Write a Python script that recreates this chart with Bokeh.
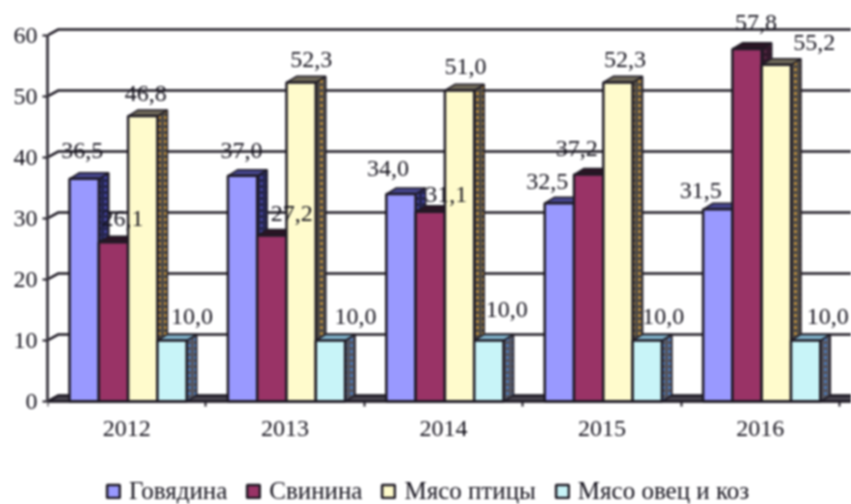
from bokeh.plotting import figure
from bokeh.models import ColumnDataSource, FixedTicker, Legend, LegendItem, LinearAxis, Range1d, InlineStyleSheet
from bokeh.core.properties import value
from bokeh.embed import file_html
from bokeh.resources import INLINE

years = ["2012", "2013", "2014", "2015", "2016"]
series_names = ["Говядина", "Свинина", "Мясо птицы", "Мясо овец и коз"]
beef = [36.5, 37.0, 34.0, 32.5, 31.5]
pork = [26.1, 27.2, 31.1, 37.2, 57.8]
poultry = [46.8, 52.3, 51.0, 52.3, 55.2]
mutton = [10.0, 10.0, 10.0, 10.0, 10.0]
y_ticks = [0, 10, 20, 30, 40, 50, 60]

# styling / layout
front = ["#9999FF", "#993366", "#FFFBCC", "#C8F4F8"]
side = ["#26264E", "#30182A", "#4E4A46", "#55555F"]
dots = ["#4A4AB0", "#5A2845", "#D0983A", "#4A80C8"]
top = ["#45458C", "#2A1424", "#6E6858", "#7FB0C8"]
INK = "#1E1A24"
TXT = "#14121C"
FONT = "Liberation Serif"
PX_X = 158.4           # pixels per category
PX_Y = 6.1             # pixels per unit
BAR_START = 22 / PX_X
BAR_W = 29.3 / PX_X
DEPTH_X = 10 / PX_X
DEPTH_Y = 1.0
WALL_X = 11 / PX_X
X_END = 804 / PX_X

label_dx = [[-2, 9, 3, 20], [-1, 20, 10, 25], [-13, 16, 6, 18], [-12, -12, 7, 16], [-17, 9, 38, 22]]
label_dy = [[28, 24, 23, 24], [25, 22, 23, 24], [26, 17, 24, 31], [22, 26, 23, 24], [19, 26, 22, 24]]

p = figure(width=851, height=504, output_backend="svg", toolbar_location=None,
           x_range=Range1d(0, X_END), y_range=Range1d(-103 / PX_Y, 401 / PX_Y),
           x_axis_type=None, y_axis_type=None,
           min_border_left=47, min_border_right=0, min_border_top=0, min_border_bottom=0)
p.outline_line_color = None
p.xgrid.visible = False
p.ygrid.visible = False
p.background_fill_color = "white"
p.stylesheets = [InlineStyleSheet(css=":host{filter:blur(0.8px);}")]

# walls and floor
p.patch([0, WALL_X, X_END, X_END], [0, DEPTH_Y, DEPTH_Y, 0], fill_color="#4A4650", line_color=INK, line_width=1.5)
p.multi_line([[0, WALL_X, X_END] for _ in y_ticks], [[t, t + DEPTH_Y, t + DEPTH_Y] for t in y_ticks],
             line_color=INK, line_width=2.5)

rows = [beef, pork, poultry, mutton]
fronts = []
for k, vals in enumerate(rows):
    x0 = [i + BAR_START + BAR_W * k for i in range(len(years))]
    x1 = [a + BAR_W for a in x0]
    p.patches([[b, b + DEPTH_X, b + DEPTH_X, b] for b in x1],
              [[0, DEPTH_Y, v + DEPTH_Y, v] for v in vals],
              fill_color=side[k], line_color=INK, line_width=1.5,
              hatch_pattern="dot", hatch_color=dots[k], hatch_scale=6, hatch_weight=1.5)
    p.patches([[a, a + DEPTH_X, b + DEPTH_X, b] for a, b in zip(x0, x1)],
              [[v, v + DEPTH_Y, v + DEPTH_Y, v] for v in vals],
              fill_color=top[k], line_color=INK, line_width=1.5)
    fronts.append(p.quad(left=x0, right=x1, bottom=0, top=vals, fill_color=front[k],
                         line_color=INK, line_width=2.5))

# value labels
lx, ly, lt, ox, oy = [], [], [], [], []
for i in range(len(years)):
    for k, vals in enumerate(rows):
        lx.append(i + BAR_START + BAR_W * (k + 0.5))
        ly.append(vals[i])
        lt.append(f"{vals[i]:.1f}".replace(".", ","))
        ox.append(label_dx[i][k])
        oy.append(-label_dy[i][k])
p.text(x="x", y="y", text="t", x_offset="ox", y_offset="oy",
       source=ColumnDataSource(dict(x=lx, y=ly, t=lt, ox=ox, oy=oy)),
       text_font=value(FONT), text_font_size="24px", text_color=TXT,
       text_align="center", text_baseline="middle")

# axes
ax_y = LinearAxis(ticker=FixedTicker(ticks=y_ticks), bounds=(0, 60))
ax_y.axis_line_color = "#45424A"
ax_y.axis_line_width = 3
ax_y.major_tick_line_color = INK
ax_y.major_tick_line_width = 2
ax_y.major_tick_in = 0
ax_y.major_tick_out = 5
ax_y.minor_tick_line_color = None
ax_y.major_label_standoff = 5
ax_y.major_label_text_font = FONT
ax_y.major_label_text_font_size = "24px"
ax_y.major_label_text_color = TXT
p.add_layout(ax_y, "left")

ax_x = LinearAxis(ticker=FixedTicker(ticks=[i + 0.5 for i in range(5)], minor_ticks=list(range(6))),
                  fixed_location=0)
ax_x.major_label_overrides = {i + 0.5: y for i, y in enumerate(years)}
ax_x.axis_line_color = INK
ax_x.axis_line_width = 2.5
ax_x.major_tick_line_color = None
ax_x.major_tick_in = 0
ax_x.major_tick_out = 0
ax_x.minor_tick_line_color = INK
ax_x.minor_tick_line_width = 2
ax_x.minor_tick_in = 0
ax_x.minor_tick_out = 5
ax_x.major_label_standoff = 14
ax_x.major_label_text_font = FONT
ax_x.major_label_text_font_size = "24px"
ax_x.major_label_text_color = TXT
p.add_layout(ax_x, "below")

legend = Legend(items=[LegendItem(label=n, renderers=[r]) for n, r in zip(series_names, fronts)],
                orientation="horizontal", location=(58, -1),
                background_fill_alpha=0, border_line_color=None,
                glyph_width=16, glyph_height=16, label_standoff=8, spacing=18,
                padding=0, margin=0, label_text_font=FONT, label_text_font_size="25px",
                label_text_color=TXT)
p.add_layout(legend, "center")

open("out.html", "w").write(file_html(p, INLINE))
